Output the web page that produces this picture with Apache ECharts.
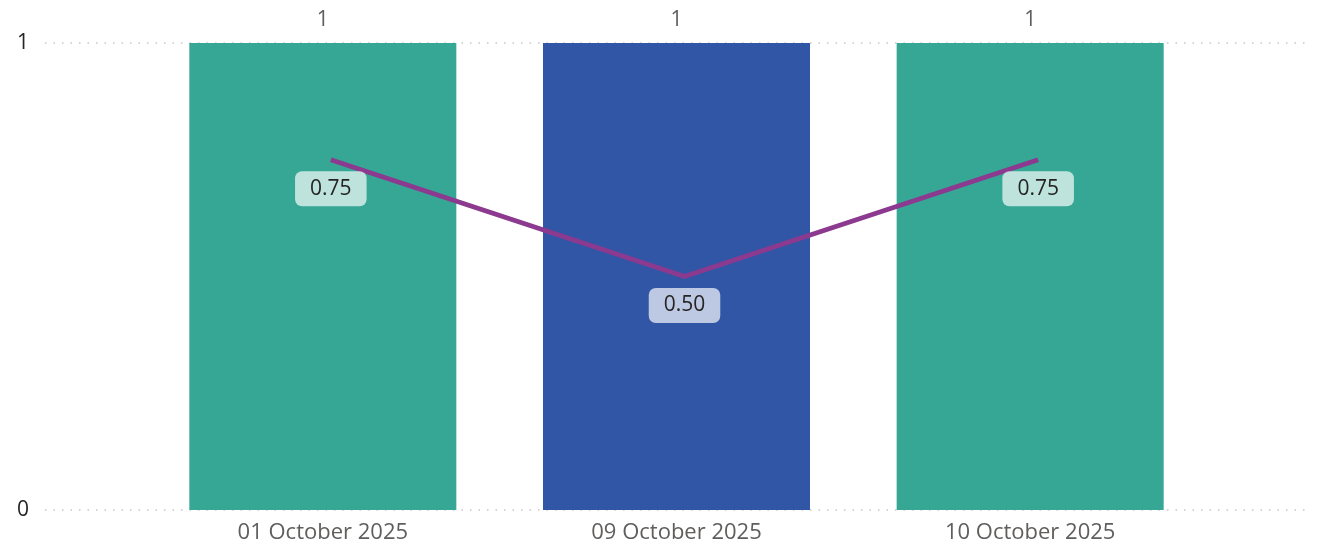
<!DOCTYPE html>
<html><head><meta charset="utf-8">
<script src="https://cdn.jsdelivr.net/npm/echarts@6/dist/echarts.min.js"></script>
<style>html,body{margin:0;padding:0;background:#fff}#c{width:1324px;height:544px}</style>
</head><body><div id="c"></div>
<script>
const categories = ['01 October 2025', '09 October 2025', '10 October 2025'];
const barValues = [1, 1, 1];
const barColors = ['#37A795', '#3256A6', '#37A795'];
const lineValues = [0.75, 0.5, 0.75];
const yTicks = [0, 1];

const font = '"Segoe UI", "Open Sans", "Noto Sans", sans-serif';
const chart = echarts.init(document.getElementById('c'));
chart.setOption({
  animation: false,
  grid: [
    {left: 45, right: 14, top: 43, bottom: 34},
    {left: 146, right: 117, top: 43, bottom: 34},
    {left: 154, right: 109, top: 43, bottom: 34}
  ],
  xAxis: [
    {gridIndex: 0, type: 'value', show: false, min: 0, max: 1},
    {gridIndex: 1, type: 'category', data: categories,
     axisLine: {show: false}, axisTick: {show: false},
     axisLabel: {color: '#605E5C', fontSize: 22, fontFamily: font, margin: 12}},
    {gridIndex: 2, type: 'category', data: categories, show: false}
  ],
  yAxis: [
    {gridIndex: 0, type: 'value', min: yTicks[0], max: yTicks[1], interval: 1,
     axisLine: {show: false}, axisTick: {show: false},
     axisLabel: {color: '#252423', fontSize: 21, fontFamily: font, margin: 16},
     splitLine: {lineStyle: {color: '#C8C6C4', type: [1.5, 7], width: 1.5}}},
    {gridIndex: 1, type: 'value', min: 0, max: 1, show: false},
    {gridIndex: 2, type: 'value', min: 0, max: 1, show: false}
  ],
  series: [
    {type: 'bar', xAxisIndex: 1, yAxisIndex: 1, barCategoryGap: '24.5%',
     data: barValues.map((v, i) => ({value: v, itemStyle: {color: barColors[i]}})),
     label: {show: true, position: 'top', distance: 12, color: '#605E5C', fontSize: 21, fontFamily: font}},
    {type: 'line', xAxisIndex: 2, yAxisIndex: 2, data: lineValues, z: 5,
     symbol: 'circle', symbolSize: 1, showSymbol: true,
     itemStyle: {color: 'rgba(0,0,0,0)'},
     lineStyle: {color: '#8B3A90', width: 5},
     label: {show: true, position: 'bottom', distance: 11,
       formatter: p => p.value.toFixed(2),
       color: '#252423', fontSize: 21, fontFamily: font,
       backgroundColor: 'rgba(255,255,255,0.68)', borderRadius: 7,
       padding: [7, 15, 7, 15]}}
  ]
});
</script></body></html>
